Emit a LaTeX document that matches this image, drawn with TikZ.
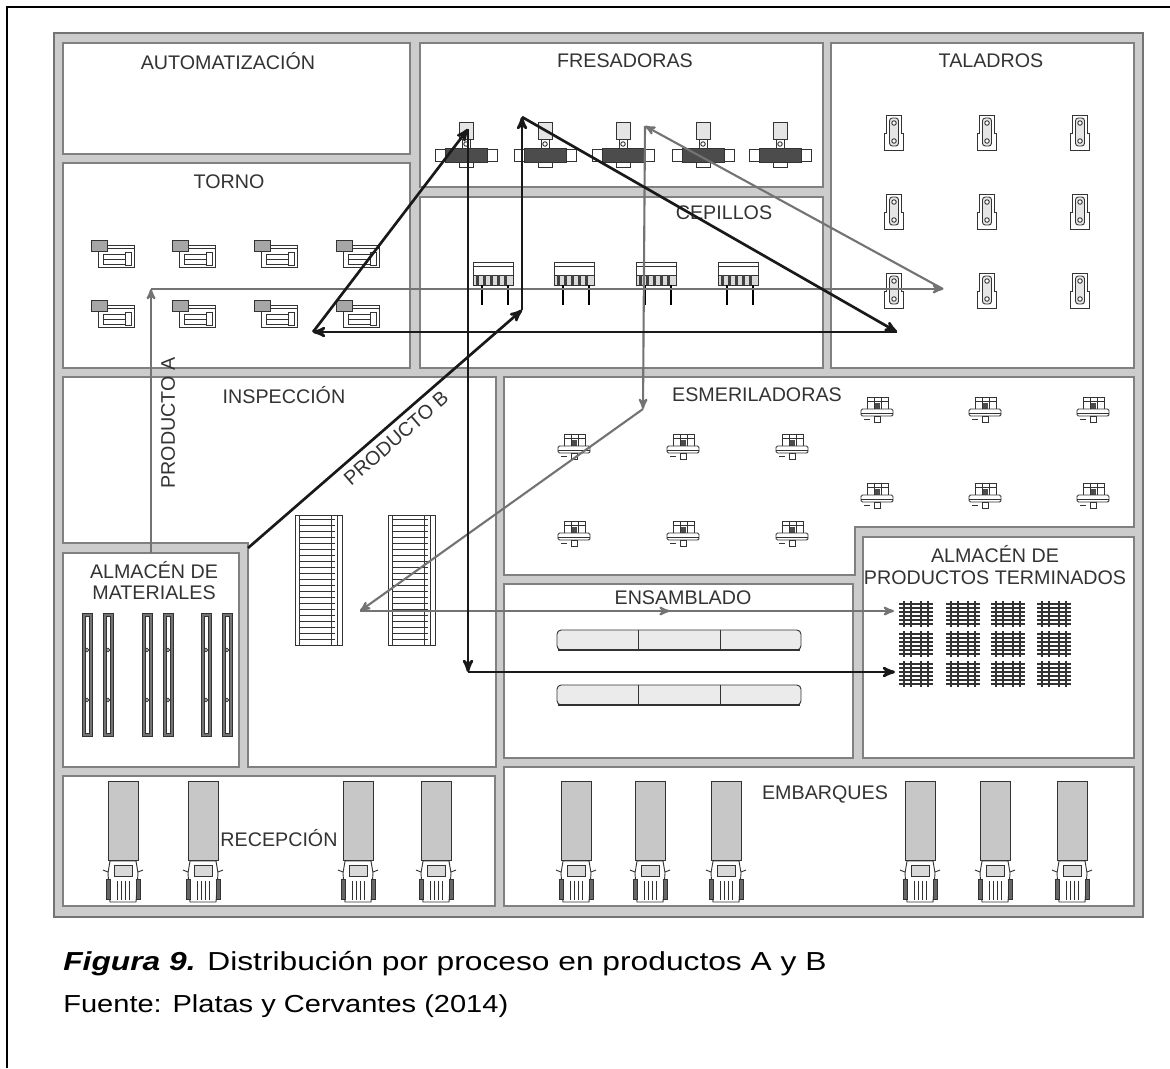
\documentclass[tikz,border=0pt]{standalone}
\usepackage{fontspec}
\setmainfont{Liberation Sans}
\usepackage{tikz}
\usetikzlibrary{arrows,decorations.markings}

\tikzset{
  room wall/.style={draw=black!50, line width=1.3pt, fill=white},
  room label/.style={text=black!80, inner sep=1pt, font=\fontsize{14}{15}\selectfont},
  machine/.style={draw=black!80, line width=0.65pt},
  flow a/.style={->, color=black!55, line width=1.5pt},
  flow b/.style={->, color=black!90, line width=1.9pt},
  caption text/.style={inner sep=0pt, font=\fontsize{17.5}{20}\selectfont, xscale=1.18},
  mid arrow/.style={
    decoration={markings, mark=at position #1 with {\arrow{stealth'}}},
    postaction={decorate},
  }
}

% maquinas (coordenadas en pixeles, y hacia abajo)
\newcommand{\torno}[2]{%
  \begin{scope}[shift={(#1,#2)}]
    \draw[machine,fill=white] (-18,-11) rectangle (18,11);
    \draw[machine] (-18,-8) -- (18,-8);
    \draw[machine] (-13,-2) rectangle (9,8);
    \draw[machine] (9,-4) rectangle (15,9);
    \draw[machine] (-13,3) -- (9,3);
    \draw[machine,fill=black!35] (-25,-16) rectangle (-9,-5);
  \end{scope}}
\newcommand{\fresadora}[2]{%
  \begin{scope}[shift={(#1,#2)}]
    \draw[machine,fill=white] (-31,-6) rectangle (31,6);
    \draw[machine,fill=black!70] (-21,-7) rectangle (21,7);
    \draw[machine,fill=white] (-7,7) rectangle (7,12);
    \draw[machine,fill=white] (-4,-16) rectangle (4,-7);
    \draw[machine,fill=black!10] (-7,-33) rectangle (7,-16);
    \draw[machine,fill=white] (0,-11) circle (1.6pt);
  \end{scope}}
\newcommand{\cepillo}[2]{%
  \begin{scope}[shift={(#1,#2)}]
    \draw[machine,fill=white] (-20,0) rectangle (20,13);
    \draw[machine] (-20,4) -- (20,4);
    \draw[machine,fill=black!15] (-20,13) rectangle (20,23);
    \foreach \sx in {-17,-10,-3,4,11} \fill[black!75] (\sx,13) rectangle (\sx+3,23);
    \draw[line width=1.4pt] (-11,23) -- (-11,43) (15,23) -- (15,43);
  \end{scope}}
\newcommand{\taladro}[2]{%
  \begin{scope}[shift={(#1,#2)}]
    \draw[machine,fill=white] (-8,-18) -- (7,-18) -- (7,0) -- (9.5,0) -- (9.5,17) -- (-9.5,17) -- (-9.5,0) -- (-8,0) -- cycle;
    \draw[machine,fill=black!10,rounded corners=2pt] (-4.5,-15) rectangle (4.5,13);
    \draw[machine,fill=white] (0,-10) circle (1.6pt) (0,8) circle (1.6pt);
  \end{scope}}
\newcommand{\esmeril}[2]{%
  \begin{scope}[shift={(#1,#2)}]
    \draw[machine,fill=white] (-10,-15) rectangle (11,-3);
    \draw[machine] (-10,-11) -- (11,-11) (-3,-15) -- (-3,-3) (4,-15) -- (4,-3);
    \fill[black!70] (-2,-9) rectangle (3,-3);
    \draw[machine,fill=white,rounded corners=1pt] (-16,-3) rectangle (16,4);
    \draw[machine] (-16,1) -- (16,1);
    \draw[machine,fill=white] (-3,4) rectangle (3,10);
    \draw[machine] (-13,7) -- (-7,7);
  \end{scope}}
\newcommand{\tarima}[2]{%
  \begin{scope}[shift={(#1,#2)}]
    \foreach \sy in {-10,-6,-2,2,6,10} \draw[line width=1.4pt,black!80] (-17,\sy) -- (17,\sy);
    \foreach \sx in {-12,-5,5,12} \draw[line width=1.4pt,black!80] (\sx,-13) -- (\sx,13);
  \end{scope}}
\newcommand{\estante}[2]{%
  \begin{scope}[shift={(#1,#2)}]
    \draw[machine,fill=black!55] (0,0) rectangle (10,123);
    \draw[machine,fill=white] (3,3) rectangle (7,120);
    \draw[machine,fill=white] (5,37) circle (1.2pt) (5,87) circle (1.2pt);
  \end{scope}}
\newcommand{\banda}[2]{%
  \begin{scope}[shift={(#1,#2)}]
    \draw[machine,fill=white] (0,0) rectangle (47,130);
    \draw[machine] (4,0) -- (4,130) (36,0) -- (36,130) (42,0) -- (42,130);
    \foreach \sy in {4,10,...,126} \draw[machine] (4,\sy) -- (40,\sy);
  \end{scope}}
\newcommand{\linea}[2]{%
  \begin{scope}[shift={(#1,#2)}]
    \draw[machine,fill=black!8,rounded corners=3pt] (0,0) rectangle (244,20);
    \draw[line width=1.6pt,black!80] (1,20) -- (243,20);
    \draw[machine] (81,0) -- (81,20) (163,0) -- (163,20);
  \end{scope}}
\newcommand{\camion}[2]{%
  \begin{scope}[shift={(#1,#2)}]
    \draw[machine,fill=black!22] (-15,0) rectangle (15,79);
    \draw[machine,fill=white] (-13,80) -- (13,80) -- (15,92) -- (13,121) -- (-13,121) -- (-15,92) -- cycle;
    \draw[machine,fill=black!15] (-9,84) rectangle (9,95);
    \draw[machine] (-15,91) -- (-20,89) (15,91) -- (20,89);
    \draw[machine,fill=black!60] (-17,98) rectangle (-13,118) (13,98) rectangle (17,118);
    \draw[machine] (-6,100) -- (-6,119) (-2,100) -- (-2,119) (2,100) -- (2,119) (6,100) -- (6,119);
  \end{scope}}

\begin{document}
\begin{tikzpicture}[x=0.025cm,y=-0.025cm,>=stealth']
  \useasboundingbox (0,0) rectangle (1170,1068);
  \draw[line width=1.4pt] (7,1068) -- (7,7) -- (1170,7);

  % planta
  \draw[draw=black!55, fill=black!20, line width=1pt] (54,33) rectangle (1143,917);
  \draw[room wall] (63,43) rectangle (410,154);
  \draw[room wall] (63,163) rectangle (410,368);
  \draw[room wall] (420,43) rectangle (823,187);
  \draw[room wall] (420,197) rectangle (823,368);
  \draw[room wall] (831,43) rectangle (1134,368);
  \draw[room wall] (63,377) -- (496,377) -- (496,767) -- (248,767) -- (248,543) -- (63,543) -- cycle;
  \draw[room wall] (63,553) rectangle (239,767);
  \draw[room wall] (504,377) -- (1134,377) -- (1134,527) -- (855,527) -- (855,575) -- (504,575) -- cycle;
  \draw[room wall] (504,584) rectangle (853,758);
  \draw[room wall] (863,537) rectangle (1134,758);
  \draw[room wall] (63,776) rectangle (495,906);
  \draw[room wall] (504,767) rectangle (1134,906);

  % maquinas
  \foreach \mx in {116,197,279,361} {\torno{\mx}{256} \torno{\mx}{316}}
  \foreach \mx in {466,545,623,703,780} {\fresadora{\mx}{155}}
  \foreach \mx in {493,574,656,738} {\cepillo{\mx}{262}}
  \foreach \mx in {894,987,1080} {\taladro{\mx}{133} \taladro{\mx}{212} \taladro{\mx}{291}}
  \foreach \mx in {574,683,792} {\esmeril{\mx}{449} \esmeril{\mx}{536}}
  \foreach \mx in {877,985,1093} {\esmeril{\mx}{412} \esmeril{\mx}{498}}
  \foreach \mx in {916,963,1008,1054} {\tarima{\mx}{614} \tarima{\mx}{644} \tarima{\mx}{674}}
  \foreach \mx in {82,103,142,163,201,222} {\estante{\mx}{613}}
  \banda{295}{515}
  \banda{388}{515}
  \linea{557}{630}
  \linea{557}{685}
  \foreach \mx in {123,203,358,436,576,650,726,920,995,1072} {\camion{\mx}{781}}

  % areas
  \node[room label] (automatizacion) at (228,61) {AUTOMATIZACIÓN};
  \node[room label] (fresadoras) at (625,61) {FRESADORAS};
  \node[room label] (taladros) at (991,61) {TALADROS};
  \node[room label] (torno) at (229,182) {TORNO};
  \node[room label] (cepillos) at (724,213) {CEPILLOS};
  \node[room label] (inspeccion) at (284,395) {INSPECCIÓN};
  \node[room label] (esmeriladoras) at (757,395) {ESMERILADORAS};
  \node[room label, align=center] (almacenmat) at (154,581) {ALMACÉN DE\\MATERIALES};
  \node[room label, align=center] (almacenpt) at (995,565) {ALMACÉN DE\\PRODUCTOS TERMINADOS};
  \node[room label] (ensamblado) at (683,598) {ENSAMBLADO};
  \node[room label] (recepcion) at (279,838) {RECEPCIÓN};
  \node[room label] (embarques) at (825,794) {EMBARQUES};
  \node[room label, rotate=90] (productoa) at (168,423) {PRODUCTO A};
  \node[room label, rotate=41] (productob) at (396,438) {PRODUCTO B};

  % flujo producto A
  \coordinate (a0) at (151,553);
  \coordinate (a1) at (151,289);
  \coordinate (a2) at (943,289);
  \coordinate (a3) at (645,126);
  \coordinate (a4) at (643,409);
  \coordinate (a5) at (360,611);
  \coordinate (a6) at (894,611);
  \draw[flow a] (a0) -- (a1);
  \draw[flow a] (a1) -- (a2);
  \draw[flow a] (a2) -- (a3);
  \draw[flow a] (a3) -- (a4);
  \draw[flow a] (a4) -- (a5);
  \draw[flow a, mid arrow=0.58] (a5) -- (a6);

  % flujo producto B
  \coordinate (b0) at (248,548);
  \coordinate (b1) at (522,310);
  \coordinate (b2) at (522,117);
  \coordinate (b3) at (897,332);
  \coordinate (b4) at (313,332);
  \coordinate (b5) at (468,129);
  \coordinate (b6) at (468,672);
  \coordinate (b7) at (895,672);
  \draw[flow b] (b0) -- (b1);
  \draw[flow b] (b1) -- (b2);
  \draw[flow b] (b2) -- (b3);
  \draw[flow b] (b3) -- (b4);
  \draw[flow b] (b4) -- (b5);
  \draw[flow b] (b5) -- (b6);
  \draw[flow b] (b6) -- (b7);

  % pie de figura
  \node[caption text, anchor=base west, font=\fontsize{18.5}{21}\selectfont, xscale=1.034] (figura) at (63,970) {\textbf{\textit{Figura 9.}} Distribución por proceso en productos A y B};
  \node[caption text, anchor=base west] (fuente) at (63,1012) {Fuente: Platas y Cervantes (2014)};
\end{tikzpicture}
\end{document}
